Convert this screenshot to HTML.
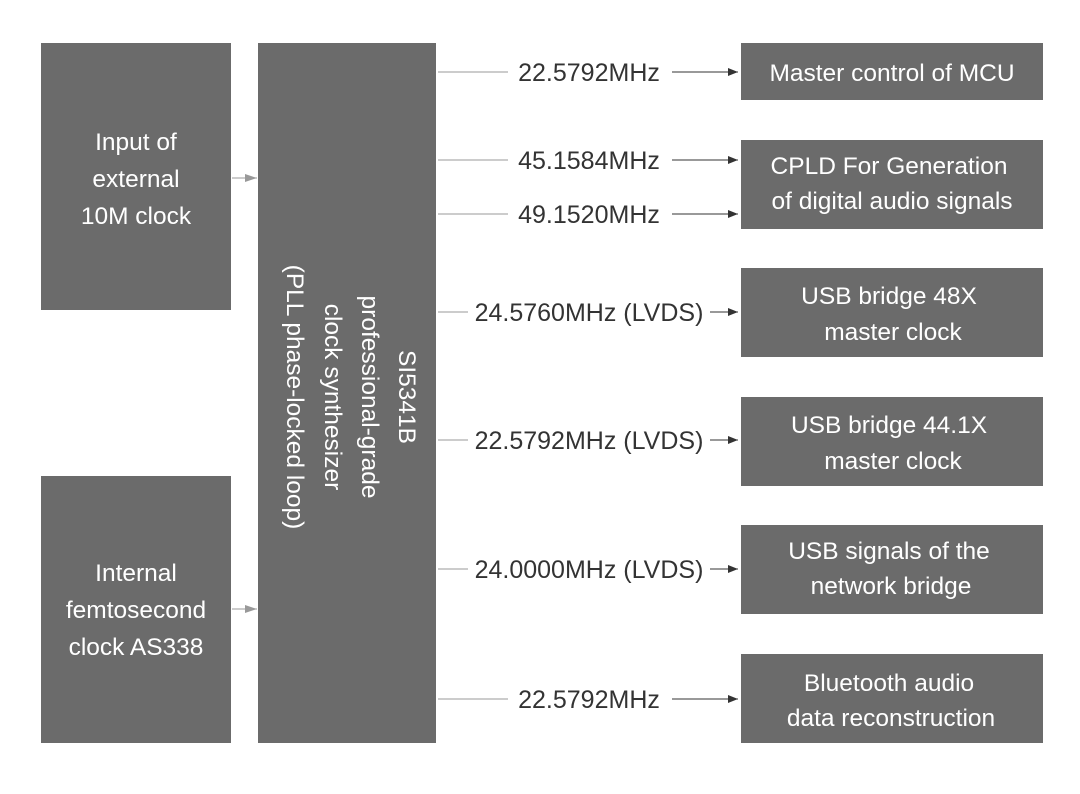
<!DOCTYPE html>
<html><head><meta charset="utf-8"><style>
html,body{margin:0;padding:0;background:#fff;}
svg{display:block;}
text{font-family:"Liberation Sans","DejaVu Sans",sans-serif;}
.w{fill:#fff;font-size:24.5px;text-anchor:middle;}
.l{fill:#333;font-size:25px;text-anchor:middle;}
</style></head><body>
<svg width="1080" height="794" viewBox="0 0 1080 794" xmlns="http://www.w3.org/2000/svg">
<defs>
<marker id="a" markerWidth="10" markerHeight="8" refX="10" refY="4" orient="auto" markerUnits="userSpaceOnUse"><path d="M0,0 L10,4 L0,8 z" fill="#333"/></marker>
<marker id="g" markerWidth="12" markerHeight="8" refX="12" refY="4" orient="auto" markerUnits="userSpaceOnUse"><path d="M0,0 L12,4 L0,8 z" fill="#999"/></marker>
</defs>
<g fill="#6b6b6b">
<rect x="41" y="43" width="190" height="267"/>
<rect x="41" y="476" width="190" height="267"/>
<rect x="258" y="43" width="178" height="700"/>
<rect x="741" y="43" width="302" height="57"/>
<rect x="741" y="140" width="302" height="89"/>
<rect x="741" y="268" width="302" height="89"/>
<rect x="741" y="397" width="302" height="89"/>
<rect x="741" y="525" width="302" height="89"/>
<rect x="741" y="654" width="302" height="89"/>
</g>
<line x1="232" y1="178" x2="257" y2="178" stroke="#999" stroke-width="1" marker-end="url(#g)"/>
<line x1="232" y1="609" x2="257" y2="609" stroke="#999" stroke-width="1" marker-end="url(#g)"/>
<text class="w" x="136" y="150">Input of</text>
<text class="w" x="136" y="187">external</text>
<text class="w" x="136" y="224">10M clock</text>
<text class="w" x="136" y="581">Internal</text>
<text class="w" x="136" y="618">femtosecond</text>
<text class="w" x="136" y="655">clock AS338</text>
<g transform="translate(347,397) rotate(90)">
<text class="w" x="0" y="-52">SI5341B</text>
<text class="w" x="0" y="-15">professional-grade</text>
<text class="w" x="0" y="22">clock synthesizer</text>
<text class="w" x="0" y="60">(PLL phase-locked loop)</text>
</g>
<g stroke="#999" stroke-width="1">
<line x1="438" y1="72" x2="508" y2="72"/>
<line x1="438" y1="160" x2="508" y2="160"/>
<line x1="438" y1="214" x2="508" y2="214"/>
<line x1="438" y1="312" x2="468" y2="312"/>
<line x1="438" y1="440" x2="468" y2="440"/>
<line x1="438" y1="569" x2="468" y2="569"/>
<line x1="438" y1="699" x2="508" y2="699"/>
</g>
<g stroke="#333" stroke-width="1">
<line x1="672" y1="72" x2="738" y2="72" marker-end="url(#a)"/>
<line x1="672" y1="160" x2="738" y2="160" marker-end="url(#a)"/>
<line x1="672" y1="214" x2="738" y2="214" marker-end="url(#a)"/>
<line x1="710" y1="312" x2="738" y2="312" marker-end="url(#a)"/>
<line x1="710" y1="440" x2="738" y2="440" marker-end="url(#a)"/>
<line x1="710" y1="569" x2="738" y2="569" marker-end="url(#a)"/>
<line x1="672" y1="699" x2="738" y2="699" marker-end="url(#a)"/>
</g>
<text class="l" x="589" y="81">22.5792MHz</text>
<text class="l" x="589" y="169">45.1584MHz</text>
<text class="l" x="589" y="223">49.1520MHz</text>
<text class="l" x="589" y="321">24.5760MHz (LVDS)</text>
<text class="l" x="589" y="449">22.5792MHz (LVDS)</text>
<text class="l" x="589" y="578">24.0000MHz (LVDS)</text>
<text class="l" x="589" y="708">22.5792MHz</text>
<text class="w" x="892" y="81">Master control of MCU</text>
<text class="w" x="889" y="174">CPLD For Generation</text>
<text class="w" x="892" y="209">of digital audio signals</text>
<text class="w" x="889" y="304">USB bridge 48X</text>
<text class="w" x="893" y="340">master clock</text>
<text class="w" x="889" y="433">USB bridge 44.1X</text>
<text class="w" x="893" y="469">master clock</text>
<text class="w" x="889" y="559">USB signals of the</text>
<text class="w" x="891" y="594">network bridge</text>
<text class="w" x="889" y="691">Bluetooth audio</text>
<text class="w" x="891" y="726">data reconstruction</text>
</svg>
</body></html>
